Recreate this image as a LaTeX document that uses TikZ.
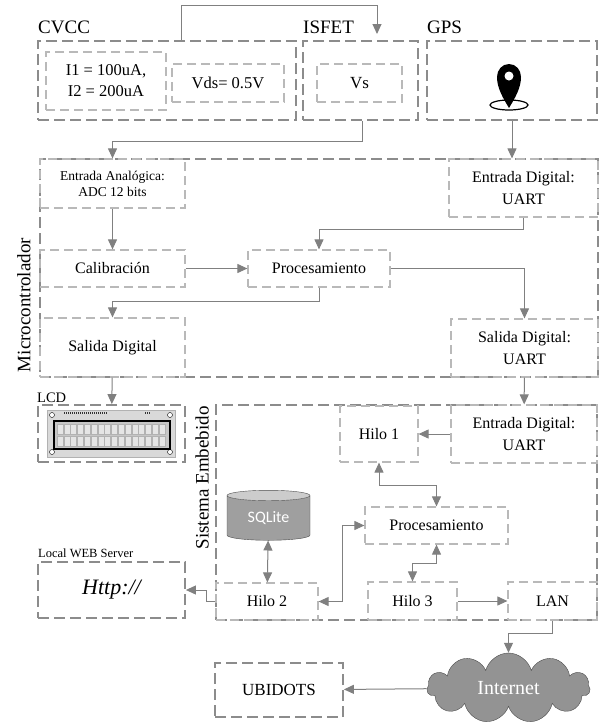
\documentclass[tikz,border=0pt]{standalone}
\usepackage{fontspec}
\setmainfont{Liberation Serif}
\newfontfamily\sqlfont{Carlito}
\usetikzlibrary{positioning,arrows.meta,shapes.geometric,shapes.symbols}

\begin{document}
\begin{tikzpicture}[x=1pt,y=-1pt]
 \useasboundingbox (0,0) rectangle (601,726);
 \tikzstyle{outer} = [draw=gray!90,line width=1.8pt,dash pattern=on 11pt off 5pt,inner sep=0pt,align=center]
 \tikzstyle{inner} = [draw=gray!55,line width=1.2pt,dash pattern=on 9pt off 5pt,align=center,inner sep=0pt,font=\fontsize{16}{22}\selectfont]
 \tikzstyle{title} = [inner sep=0pt,font=\fontsize{19}{22}\selectfont]
 \tikzstyle{small} = [inner sep=0pt,anchor=base west]
 \tikzstyle{arr} = [draw=gray,line width=1pt,-{Triangle[length=10pt,width=9pt]}]
 \tikzstyle{darr} = [arr,{Triangle[length=10pt,width=9pt]}-{Triangle[length=10pt,width=9pt]}]
 \node[outer,minimum width=258,minimum height=79] (cvcc) at (167,80.5) {};
 \node[outer,minimum width=115,minimum height=79] (isfet) at (360.5,80.5) {};
 \node[outer,minimum width=170,minimum height=79] (gps) at (512,80.5) {};
 \node[title,anchor=base west] (tcvcc) at (38,33) {CVCC};
 \node[title,anchor=base west] (tisfet) at (303,33) {ISFET};
 \node[title,anchor=base west] (tgps) at (427,33) {GPS};
 \node[inner,minimum width=120,minimum height=58,font=\fontsize{16.5}{21}\selectfont] (ii) at (106,81) {I1 = 100uA,\\ I2 = 200uA};
 \node[inner,minimum width=112,minimum height=38,font=\fontsize{16.5}{21}\selectfont] (vds) at (228,83) {Vds= 0.5V};
 \node[inner,minimum width=85,minimum height=38,font=\fontsize{17}{21}\selectfont] (vs) at (359.5,83) {Vs};
 \fill (509,108) .. controls (503,98) and (497,88) .. (497,77) .. controls (497,70) and (502,64) .. (509,64) .. controls (516,64) and (521,70) .. (521,77) .. controls (521,88) and (515,98) .. (509,108) -- cycle;
 \fill[white] (509,76) circle (4.5pt);
 \draw[line width=1.2pt] (509,105) ellipse [x radius=19pt,y radius=5pt];
 \node[outer,minimum width=558,minimum height=218] (micro) at (319,268) {};
 \node[title,rotate=90] (tmicro) at (24,305) {Microcontrolador};
 \node[inner,minimum width=145,minimum height=49,font=\fontsize{13.5}{16}\selectfont] (adc) at (112.5,183.5) {Entrada Analógica:\\ ADC 12 bits};
 \node[inner,minimum width=149,minimum height=58] (edig) at (523.5,188) {Entrada Digital:\\ UART};
 \node[inner,minimum width=145,minimum height=37] (cal) at (112.5,268.5) {Calibración};
 \node[inner,minimum width=142,minimum height=37] (proc) at (319,268.5) {Procesamiento};
 \node[inner,minimum width=145,minimum height=59] (sdig) at (112.5,347.5) {Salida Digital};
 \node[inner,minimum width=147,minimum height=58] (sdu) at (524.5,348) {Salida Digital:\\ UART};
 \node[outer,minimum width=147,minimum height=57] (lcd) at (111.5,433.5) {};
 \node[small,font=\fontsize{14.5}{17}\selectfont] (tlcd) at (37,402) {LCD};
 \draw[fill=gray!30,draw=gray!60] (47,410) rectangle (175,457);
 \foreach \x/\y in {52/415,170/415,52/452,170/452}
   \draw[fill=white] (\x,\y) circle (2.5pt);
 \draw[gray!40!black,line width=2pt,dash pattern=on 1pt off 1pt] (64,413) -- (108,413) (145,413) -- (151,413);
 \draw[line width=2pt,fill=gray!45] (54,421) rectangle (170,449);
 \foreach \i in {0,...,15} {
   \draw[gray!60,fill=gray!20] (57+6.8*\i,424) rectangle ++(6,10);
   \draw[gray!60,fill=gray!20] (57+6.8*\i,436) rectangle ++(6,10);
 }
 \node[outer,minimum width=381,minimum height=215] (emb) at (406.5,512.5) {};
 \node[title,rotate=90] (temb) at (202,478) {Sistema Embebido};
 \node[inner,minimum width=146,minimum height=58] (edu) at (524,434) {Entrada Digital:\\ UART};
 \node[inner,minimum width=78,minimum height=56] (h1) at (379,434) {Hilo 1};
 \node[inner,minimum width=143,minimum height=37] (eproc) at (436.5,525.5) {Procesamiento};
 \node[inner,minimum width=89,minimum height=38] (h3) at (412.5,601) {Hilo 3};
 \node[inner,minimum width=89,minimum height=38] (lan) at (552.5,601) {LAN};
 \node[inner,minimum width=102,minimum height=37] (h2) at (267,601.5) {Hilo 2};
 \node[cylinder,shape border rotate=90,aspect=0.25,draw=gray!60!black,cylinder uses custom fill,cylinder body fill=gray!75,cylinder end fill=gray!40,minimum width=83,minimum height=50,inner sep=0pt,text=white,font=\sqlfont\fontsize{16}{19}\selectfont] (sql) at (268.5,518) {SQLite};
 \node[outer,minimum width=147,minimum height=56,font=\itshape\fontsize{22}{26}\selectfont] (web) at (111.5,590) {Http://};
 \node[small,font=\fontsize{12.5}{15}\selectfont] (tweb) at (38,557) {Local WEB Server};
 \node[cloud,cloud puffs=11,aspect=2.3,draw=gray!60!black,fill=gray!85,minimum width=163,minimum height=70,inner sep=0pt,text=white,font=\fontsize{20}{24}\selectfont] (net) at (508.5,688) {Internet};
 \node[outer,minimum width=128,minimum height=54,font=\fontsize{17}{20}\selectfont] (ubi) at (279,690) {UBIDOTS};
 \coordinate (top) at (181,5);
 \coordinate (tin) at (377,34);
 \coordinate (ain) at (362,141);
 \draw[arr] (cvcc.north -| top) |- (tin |- top) -- (tin);
 \draw[arr] (isfet.south -| ain) -- (ain) -| (adc.north);
 \draw[arr] (gps.south) -- (gps.south |- edig.north);
 \draw[arr] (adc) -- (cal);
 \draw[arr] (cal) -- (proc);
 \draw[arr] (edig.south) -- ++(0,12) -| (proc.north);
 \draw[arr] (proc.east) -| (sdu.north);
 \draw[arr] (proc.south) -- ++(0,14) -| (sdig.north);
 \draw[arr] (sdig) -- (lcd);
 \draw[arr] (sdu) -- (edu);
 \draw[arr] (edu) -- (h1);
 \draw[darr] (h1.south) -- ++(0,23) -| (eproc.north);
 \draw[darr] (eproc.south) -- ++(0,19) -| (h3.north);
 \draw[darr] (eproc.west) -- ++(-22,0) |- (h2.east);
 \draw[arr] (h3) -- (lan);
 \draw[darr] (sql) -- (h2);
 \draw[arr] (h2.west) -- ++(-9,0) |- (web.east);
 \draw[arr] (lan.south) -- ++(0,13) -| (net.north);
 \draw[arr] (net) -- (ubi);
\end{tikzpicture}
\end{document}
